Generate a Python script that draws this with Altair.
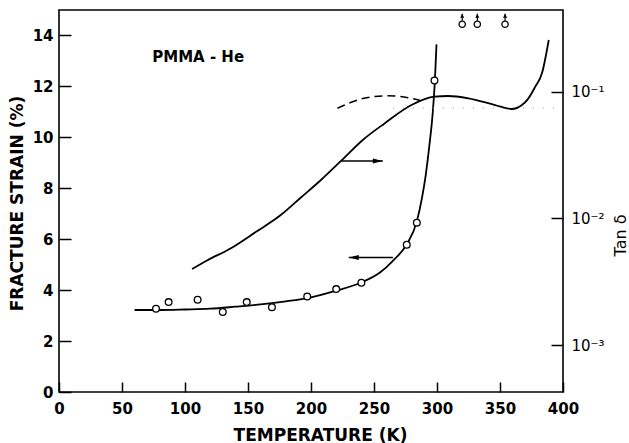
import altair as alt
import pandas as pd

FONT = "DejaVu Sans"

# Measured fracture strain (%) vs temperature (K)
strain_T = [77, 87, 110, 130, 149, 169, 197, 220, 240, 276, 284, 298]
strain_pct = [3.27, 3.53, 3.62, 3.14, 3.53, 3.33, 3.75, 4.04, 4.29, 5.78, 6.65, 12.23]

# Specimens that did not break (plotted at the top with upward arrows)
unbroken_T = [320, 332, 354]
unbroken_pct = [14.44, 14.44, 14.44]
unbroken_stem_top = [14.85, 14.85, 14.85]
unbroken_stem_bottom = [14.58, 14.58, 14.58]

# Smooth curve through the fracture strain data
fit_T = [60, 80, 100, 120, 140, 160, 180, 200, 220, 240, 255, 265, 276, 284,
         288, 291, 294, 296.5, 298.3, 299.6]
fit_pct = [3.22, 3.22, 3.24, 3.27, 3.35, 3.44, 3.56, 3.72, 3.98, 4.3, 4.7, 5.15,
           5.8, 6.7, 7.6, 8.5, 9.7, 10.9, 12.2, 13.65]

# Loss tangent (right axis, log scale)
tan_T = [105.6, 117.5, 136.1, 156.1, 176.0, 192.0, 207.9, 223.8, 241.1, 258.4,
         279.7, 298.2, 308.9, 324.9, 346.1, 359.4, 367.4, 372, 378, 383.3, 388.7]
tan_delta = [0.00398, 0.00465, 0.00579, 0.00780, 0.01062, 0.01462, 0.0201,
             0.0284, 0.0416, 0.0562, 0.0785, 0.0914, 0.0925, 0.0887, 0.0785,
             0.0730, 0.0785, 0.087, 0.1096, 0.1396, 0.256]

# Dashed branch of the loss tangent
dash_T = [221, 242, 261, 277, 290]
dash_delta = [0.0740, 0.0887, 0.0929, 0.0897, 0.0834]

# Faint dotted reference line
dot_T = [265, 400]
dot_delta = [0.0743, 0.0743]

# Arrows pointing each curve to its axis
right_arrow = {"T0": [224], "T1": [257], "v": [0.0284]}
left_arrow = {"T0": [265], "T1": [230], "v": [5.28]}

# Annotation
label_T = [74]
label_pct = [13.14]
label_text = ["PMMA - He"]

# Tick values
x_ticks = [0, 50, 100, 150, 200, 250, 300, 350, 400]
left_ticks = [0, 2, 4, 6, 8, 10, 12, 14]
right_ticks = [0.001, 0.01, 0.1]

W, H = 504, 382
SIDE_TICK, BOTTOM_TICK = 12, 10

x_scale = alt.Scale(domain=[0, 400], nice=False, zero=False)
left_scale = alt.Scale(domain=[0, 15], nice=False, zero=False)
right_scale = alt.Scale(type="log", domain=[0.000426, 0.4416], nice=False)

# Axes are pulled inside the frame by their tick length, so ticks point inward
# while the labels stay outside.
common = dict(domain=False, grid=False, ticks=True, tickColor="black", tickWidth=1.5,
              labelFont=FONT, labelColor="black", labelFlush=False,
              labelOverlap=False, titleFont=FONT, titleColor="black")

x_axis = alt.Axis(
    values=x_ticks, title="TEMPERATURE (K)", orient="bottom",
    offset=-BOTTOM_TICK, tickSize=BOTTOM_TICK,
    labelFontSize=15, labelFontWeight="bold", labelPadding=9,
    titleFontSize=17, titleFontWeight="bold",
    titleX=261, titleY=48 + BOTTOM_TICK, titleBaseline="alphabetic",
    titleAlign="center", **common,
)
left_axis = alt.Axis(
    values=left_ticks, title="FRACTURE STRAIN (%)", orient="left",
    offset=-SIDE_TICK, tickSize=SIDE_TICK,
    labelFontSize=15, labelFontWeight="bold", labelPadding=6,
    titleFontSize=17, titleFontWeight="bold",
    titleAngle=270, titleX=-37 - SIDE_TICK, titleY=193, titleAlign="center",
    titleBaseline="alphabetic", **common,
)
right_axis = alt.Axis(
    values=right_ticks, orient="right",
    offset=-SIDE_TICK, tickSize=SIDE_TICK,
    labelExpr="datum.value < 0.005 ? '10⁻³' : (datum.value < 0.05 ? '10⁻²' : '10⁻¹')",
    title="Tan δ", labelFontSize=15, labelPadding=8,
    titleFontSize=16, titleFontWeight="normal",
    titleAngle=270, titleX=62 + SIDE_TICK, titleY=225, titleAlign="center",
    titleBaseline="alphabetic", **common,
)


def X(field):
    return alt.X(f"{field}:Q", scale=x_scale, axis=x_axis)


def YL(field):
    return alt.Y(f"{field}:Q", scale=left_scale, axis=left_axis)


def YR(field):
    return alt.Y(f"{field}:Q", scale=right_scale, axis=right_axis)


# ---- left-axis layers (fracture strain) ----
fit_line = alt.Chart(pd.DataFrame({"T": fit_T, "s": fit_pct})).mark_line(
    color="black", strokeWidth=1.8, interpolate="monotone"
).encode(x=X("T"), y=YL("s"))

strain_pts = alt.Chart(pd.DataFrame({"T": strain_T, "s": strain_pct})).mark_point(
    shape="circle", filled=True, fill="white", stroke="black", strokeWidth=1.3,
    size=45, opacity=1
).encode(x=X("T"), y=YL("s"))

unbroken_pts = alt.Chart(pd.DataFrame({"T": unbroken_T, "s": unbroken_pct})).mark_point(
    shape="circle", filled=True, fill="white", stroke="black", strokeWidth=1.3,
    size=40, opacity=1
).encode(x=X("T"), y=YL("s"))

unbroken_df = pd.DataFrame({"T": unbroken_T, "lo": unbroken_stem_bottom,
                            "hi": unbroken_stem_top})
unbroken_stems = alt.Chart(unbroken_df).mark_rule(color="black", strokeWidth=1.2).encode(
    x=X("T"), y=YL("lo"), y2="hi"
)
unbroken_heads = alt.Chart(unbroken_df).mark_point(
    shape="M -1 2 L 0 0 L 1 2 Z", filled=True, color="black", size=16, opacity=1
).encode(x=X("T"), y=YL("hi"))

left_df = pd.DataFrame(left_arrow)
left_shaft = alt.Chart(left_df).mark_rule(color="black", strokeWidth=1.4).encode(
    x=X("T0"), x2="T1", y=YL("v")
)
left_head = alt.Chart(left_df).mark_point(
    shape="M 2 -0.5 L 0 0 L 2 0.5 Z", filled=True, color="black", size=100, opacity=1
).encode(x=X("T1"), y=YL("v"))

label = alt.Chart(pd.DataFrame({"T": label_T, "s": label_pct, "t": label_text})).mark_text(
    align="left", baseline="middle", font=FONT, fontSize=15, fontWeight="bold",
    color="black"
).encode(x=X("T"), y=YL("s"), text="t:N")

left_group = alt.layer(
    fit_line, strain_pts, unbroken_stems, unbroken_heads, unbroken_pts,
    left_shaft, left_head, label
)

# ---- right-axis layers (tan delta) ----
tan_line = alt.Chart(pd.DataFrame({"T": tan_T, "d": tan_delta})).mark_line(
    color="black", strokeWidth=1.8, interpolate="monotone"
).encode(x=X("T"), y=YR("d"))

dash_line = alt.Chart(pd.DataFrame({"T": dash_T, "d": dash_delta})).mark_line(
    color="black", strokeWidth=1.5, strokeDash=[8, 5], interpolate="monotone"
).encode(x=X("T"), y=YR("d"))

dot_line = alt.Chart(pd.DataFrame({"T": dot_T, "d": dot_delta})).mark_line(
    color="#999999", strokeWidth=1, strokeDash=[1, 9]
).encode(x=X("T"), y=YR("d"))

right_df = pd.DataFrame(right_arrow)
right_shaft = alt.Chart(right_df).mark_rule(color="black", strokeWidth=1.4).encode(
    x=X("T0"), x2="T1", y=YR("v")
)
right_head = alt.Chart(right_df).mark_point(
    shape="M -2 -0.5 L 0 0 L -2 0.5 Z", filled=True, color="black", size=100, opacity=1
).encode(x=X("T1"), y=YR("v"))

right_group = alt.layer(dot_line, tan_line, dash_line, right_shaft, right_head)

chart = alt.layer(left_group, right_group).resolve_scale(
    y="independent"
).properties(
    width=W, height=H,
    autosize=alt.AutoSizeParams(type="none"),
    padding={"left": 59, "top": 10, "right": 66, "bottom": 51},
    background="white",
).configure_view(
    stroke="black", strokeWidth=1.6
)

chart.save("out.html", embed_options={"renderer": "svg", "actions": False})
